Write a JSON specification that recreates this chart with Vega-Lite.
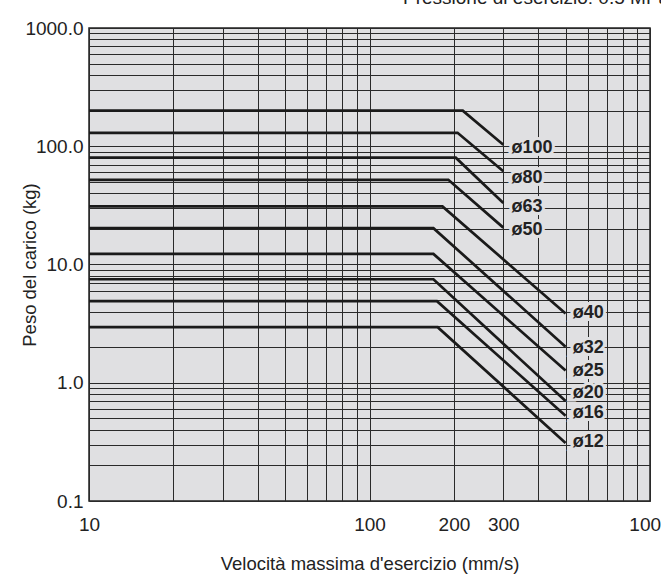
{
  "$schema": "https://vega.github.io/schema/vega-lite/v6.json",
  "autosize": {"type": "none"},
  "width": 561,
  "height": 473,
  "padding": {"left": 89, "top": 28, "right": 11, "bottom": 74},
  "background": "white",
  "config": {
    "font": "Liberation Sans",
    "view": {"fill": "#e0e0e2", "stroke": "#222222", "strokeWidth": 1.5}
  },
  "title": {
    "text": "Pressione di esercizio: 0.5 MPa",
    "anchor": "start",
    "frame": "group",
    "orient": "top",
    "dx": 314,
    "dy": 4,
    "offset": 0,
    "baseline": "alphabetic",
    "fontSize": 19,
    "fontWeight": "normal",
    "color": "#222222"
  },
  "datasets": {
    "lines": [
      {"d": "ø100", "v": 10, "m": 200}, {"d": "ø100", "v": 215, "m": 200}, {"d": "ø100", "v": 300, "m": 103},
      {"d": "ø80", "v": 10, "m": 130}, {"d": "ø80", "v": 206, "m": 130}, {"d": "ø80", "v": 300, "m": 61.4},
      {"d": "ø63", "v": 10, "m": 80}, {"d": "ø63", "v": 203, "m": 80}, {"d": "ø63", "v": 300, "m": 33.1},
      {"d": "ø50", "v": 10, "m": 52}, {"d": "ø50", "v": 191, "m": 52}, {"d": "ø50", "v": 300, "m": 20.5},
      {"d": "ø40", "v": 10, "m": 31}, {"d": "ø40", "v": 182, "m": 31}, {"d": "ø40", "v": 500, "m": 3.85},
      {"d": "ø32", "v": 10, "m": 20.3}, {"d": "ø32", "v": 169, "m": 20.3}, {"d": "ø32", "v": 500, "m": 2.02},
      {"d": "ø25", "v": 10, "m": 12.3}, {"d": "ø25", "v": 169, "m": 12.3}, {"d": "ø25", "v": 500, "m": 1.27},
      {"d": "ø20", "v": 10, "m": 7.5}, {"d": "ø20", "v": 169, "m": 7.5}, {"d": "ø20", "v": 500, "m": 0.7},
      {"d": "ø16", "v": 10, "m": 4.9}, {"d": "ø16", "v": 174, "m": 4.9}, {"d": "ø16", "v": 500, "m": 0.525},
      {"d": "ø12", "v": 10, "m": 2.95}, {"d": "ø12", "v": 175, "m": 2.95}, {"d": "ø12", "v": 500, "m": 0.31}
    ],
    "labels": [
      {"d": "ø100", "v": 321, "m": 97},
      {"d": "ø80", "v": 321, "m": 54},
      {"d": "ø63", "v": 321, "m": 30.6},
      {"d": "ø50", "v": 321, "m": 19.4},
      {"d": "ø40", "v": 530, "m": 3.87},
      {"d": "ø32", "v": 530, "m": 1.98},
      {"d": "ø25", "v": 530, "m": 1.256},
      {"d": "ø20", "v": 530, "m": 0.823},
      {"d": "ø16", "v": 530, "m": 0.557},
      {"d": "ø12", "v": 530, "m": 0.316}
    ]
  },
  "layer": [
    {
      "data": {"name": "lines"},
      "mark": {"type": "line", "color": "#1a1a1a", "strokeWidth": 2.7},
      "encoding": {
        "x": {
          "field": "v", "type": "quantitative",
          "scale": {"type": "log", "domain": [10, 1000], "nice": false},
          "axis": {
            "title": "Velocità massima d'esercizio (mm/s)",
            "values": [10, 20, 30, 40, 50, 60, 70, 80, 90, 100, 200, 300, 400, 500, 600, 700, 800, 900, 1000],
            "labelExpr": "indexof([10,100,200,300,1000], datum.value) >= 0 ? format(datum.value, 'd') : ''",
            "labelOverlap": false,
            "labelFlush": false,
            "labelFontSize": 19,
            "labelColor": "#222222",
            "labelPadding": 14,
            "ticks": false,
            "domain": false,
            "grid": true,
            "gridColor": "#2a2a2a",
            "gridWidth": 1,
            "gridOpacity": 1,
            "titleFontSize": 18.5,
            "titleFontWeight": "normal",
            "titleColor": "#222222",
            "titleBaseline": "alphabetic",
            "titleY": 68
          }
        },
        "y": {
          "field": "m", "type": "quantitative",
          "scale": {"type": "log", "domain": [0.1, 1000], "nice": false},
          "axis": {
            "title": "Peso del carico (kg)",
            "values": [0.1, 0.2, 0.3, 0.4, 0.5, 0.6, 0.7, 0.8, 0.9, 1, 2, 3, 4, 5, 6, 7, 8, 9, 10, 20, 30, 40, 50, 60, 70, 80, 90, 100, 200, 300, 400, 500, 600, 700, 800, 900, 1000],
            "labelExpr": "indexof([0.1,1,10,100,1000], datum.value) >= 0 ? format(datum.value, '.1f') : ''",
            "labelOverlap": false,
            "labelFlush": false,
            "labelFontSize": 19,
            "labelColor": "#222222",
            "labelPadding": 6,
            "ticks": false,
            "domain": false,
            "grid": true,
            "gridColor": "#2a2a2a",
            "gridWidth": 1,
            "gridOpacity": 1,
            "titleFontSize": 18.5,
            "titleFontWeight": "normal",
            "titleColor": "#222222",
            "titleBaseline": "alphabetic",
            "titleX": -54
          }
        },
        "detail": {"field": "d"}
      }
    },
    {
      "data": {"name": "labels"},
      "mark": {"type": "text", "align": "left", "baseline": "middle", "fontSize": 18, "fontWeight": "bold", "fill": "#e0e0e2", "stroke": "#e0e0e2", "strokeWidth": 6},
      "encoding": {
        "x": {"field": "v", "type": "quantitative"},
        "y": {"field": "m", "type": "quantitative"},
        "text": {"field": "d"}
      }
    },
    {
      "data": {"name": "labels"},
      "mark": {"type": "text", "align": "left", "baseline": "middle", "fontSize": 18, "fontWeight": "bold", "color": "#222222"},
      "encoding": {
        "x": {"field": "v", "type": "quantitative"},
        "y": {"field": "m", "type": "quantitative"},
        "text": {"field": "d"}
      }
    }
  ]
}
